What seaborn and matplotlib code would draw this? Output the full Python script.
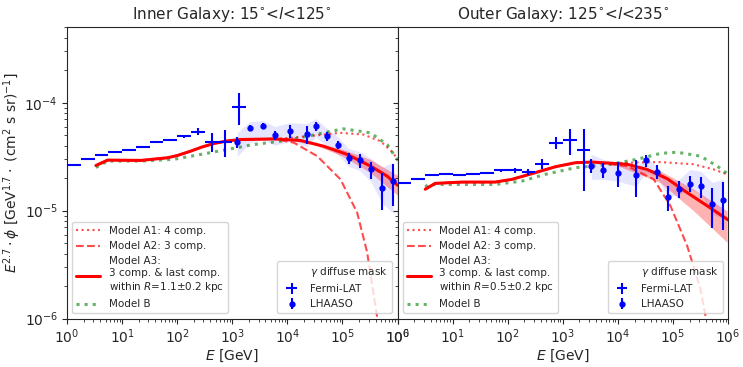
import numpy as np
import pandas as pd
import matplotlib
matplotlib.use("Agg")
import matplotlib.pyplot as plt
from matplotlib.lines import Line2D
import seaborn as sns

# ---------------- DATA ----------------
# Fermi-LAT energy bins (GeV): lower/upper edges (4 bins per decade)
fermi_lo_in = [1.0, 1.78, 3.16, 5.62, 10.0, 17.8, 31.6, 56.2, 100, 178, 316, 562, 1000]
fermi_hi_in = [1.78, 3.16, 5.62, 10.0, 17.8, 31.6, 56.2, 100, 178, 316, 562, 1000, 1778]
fermi_f_in = [2.64e-5, 2.98e-5, 3.25e-5, 3.48e-5, 3.63e-5, 3.85e-5, 4.37e-5, 4.50e-5,
              4.87e-5, 5.40e-5, 4.37e-5, 4.37e-5, 9.2e-5]
fermi_err_in = [0.03e-5, 0.03e-5, 0.03e-5, 0.03e-5, 0.04e-5, 0.05e-5, 0.06e-5, 0.08e-5,
                0.15e-5, 0.4e-5, 0.85e-5, 1.2e-5, 3.0e-5]

fermi_lo_out = [1.0, 1.78, 3.16, 5.62, 10.0, 17.8, 31.6, 56.2, 100, 178, 316, 562, 1000, 1778]
fermi_hi_out = [1.78, 3.16, 5.62, 10.0, 17.8, 31.6, 56.2, 100, 178, 316, 562, 1000, 1778, 3162]
fermi_f_out = [1.79e-5, 1.98e-5, 2.12e-5, 2.20e-5, 2.16e-5, 2.17e-5, 2.25e-5, 2.36e-5,
               2.36e-5, 2.30e-5, 2.72e-5, 4.26e-5, 4.50e-5, 3.63e-5]
fermi_err_out = [0.02e-5, 0.02e-5, 0.02e-5, 0.02e-5, 0.03e-5, 0.03e-5, 0.04e-5, 0.06e-5,
                 0.15e-5, 0.14e-5, 0.31e-5, 0.55e-5, 1.2e-5, 2.1e-5]

# LHAASO points (GeV, flux, error) and systematic band
lha_e_in = [1230, 2090, 3660, 5940, 10960, 22300, 32800, 52000, 81300, 128800,
            204000, 326000, 525000, 828000]
lha_f_in = [4.35e-5, 5.85e-5, 6.05e-5, 4.97e-5, 5.44e-5, 5.14e-5, 6.05e-5, 4.90e-5,
            4.05e-5, 3.07e-5, 2.92e-5, 2.41e-5, 1.61e-5, 1.90e-5]
lha_err_in = [0.51e-5, 0.37e-5, 0.39e-5, 0.47e-5, 0.77e-5, 0.98e-5, 0.57e-5, 0.49e-5,
              0.35e-5, 0.35e-5, 0.41e-5, 0.43e-5, 0.6e-5, 0.8e-5]
lha_band_hi_in = [5.29e-5, 6.68e-5, 6.83e-5, 6.01e-5, 6.54e-5, 6.40e-5, 7.13e-5, 5.76e-5,
                  4.86e-5, 3.77e-5, 3.53e-5, 3.05e-5, 2.52e-5, 2.80e-5]
lha_band_lo_in = [3.18e-5, 4.28e-5, 4.56e-5, 4.02e-5, 4.37e-5, 3.93e-5, 4.86e-5, 3.93e-5,
                  3.32e-5, 2.57e-5, 2.36e-5, 1.87e-5, 1.17e-5, 0.95e-5]

lha_e_out = [3290, 5430, 10190, 21000, 32400, 51300, 81300, 128800, 204000, 324000,
             513000, 813000]
lha_f_out = [2.62e-5, 2.38e-5, 2.25e-5, 2.14e-5, 2.92e-5, 2.30e-5, 1.35e-5, 1.60e-5,
             1.78e-5, 1.69e-5, 1.16e-5, 1.25e-5]
lha_err_out = [0.39e-5, 0.36e-5, 0.58e-5, 0.80e-5, 0.38e-5, 0.35e-5, 0.36e-5, 0.30e-5,
               0.30e-5, 0.37e-5, 0.47e-5, 0.59e-5]
lha_band_hi_out = [3.32e-5, 2.99e-5, 2.80e-5, 2.52e-5, 3.11e-5, 2.57e-5, 1.83e-5, 1.95e-5,
                   2.41e-5, 2.31e-5, 1.83e-5, 1.95e-5]
lha_band_lo_out = [1.95e-5, 1.95e-5, 1.87e-5, 1.68e-5, 2.26e-5, 2.04e-5, 1.33e-5, 1.42e-5,
                   1.58e-5, 1.42e-5, 0.93e-5, 0.84e-5]

# Model curves, inner galaxy
a3_e_in = [3.35, 5.46, 10, 21.9, 66.7, 100, 176, 282, 466, 794, 1419, 5690, 17340,
           45800, 121600, 321400, 645700, 1.0e6]
a3_f_in = [2.62e-5, 2.94e-5, 2.93e-5, 2.92e-5, 3.09e-5, 3.24e-5, 3.56e-5, 3.89e-5,
           4.19e-5, 4.42e-5, 4.56e-5, 4.62e-5, 4.47e-5, 3.95e-5, 3.32e-5, 2.59e-5,
           2.09e-5, 1.72e-5]
a1_e_in = [3.35, 5.46, 10, 21.9, 66.7, 100, 176, 282, 466, 794, 1419, 5690, 11480,
           22900, 91200, 240000, 490000, 832000, 1.0e6]
a1_f_in = [2.62e-5, 2.94e-5, 2.93e-5, 2.92e-5, 3.09e-5, 3.24e-5, 3.56e-5, 3.89e-5,
           4.19e-5, 4.42e-5, 4.56e-5, 4.62e-5, 4.73e-5, 4.89e-5, 5.26e-5, 5.07e-5,
           4.40e-5, 3.44e-5, 2.95e-5]
a2_e_in = [3.35, 5.46, 10, 21.9, 66.7, 100, 176, 282, 466, 794, 1419, 5690, 13120,
           34800, 92000, 184500, 280000, 424600, 501000]
a2_f_in = [2.62e-5, 2.94e-5, 2.93e-5, 2.92e-5, 3.09e-5, 3.24e-5, 3.56e-5, 3.89e-5,
           4.19e-5, 4.42e-5, 4.56e-5, 4.62e-5, 4.26e-5, 3.20e-5, 1.95e-5, 9.6e-6,
           4.12e-6, 1.04e-6, 6.0e-7]
b_e_in = [3.35, 5.46, 21.9, 86.7, 268, 815, 2443, 7530, 22960, 60700, 104200, 321400,
          645700, 1.03e6]
b_f_in = [2.51e-5, 2.88e-5, 2.88e-5, 2.99e-5, 3.32e-5, 3.69e-5, 4.10e-5, 4.40e-5,
          4.89e-5, 5.43e-5, 5.73e-5, 5.26e-5, 4.10e-5, 2.88e-5]
a3band_e_in = [10000, 31600, 100000, 316000, 1.0e6]
a3band_hi_in = [4.55e-5, 4.23e-5, 3.71e-5, 2.99e-5, 2.12e-5]
a3band_lo_in = [4.55e-5, 4.06e-5, 3.20e-5, 2.26e-5, 1.39e-5]

# Model curves, outer galaxy
a3_e_out = [3.18, 4.83, 14.8, 59.4, 119, 316, 730, 1690, 3390, 14660, 33800, 78000,
            179900, 415000, 1.0e6]
a3_f_out = [1.58e-5, 1.79e-5, 1.84e-5, 1.84e-5, 1.95e-5, 2.25e-5, 2.55e-5, 2.78e-5,
            2.82e-5, 2.69e-5, 2.41e-5, 1.98e-5, 1.47e-5, 1.11e-5, 8.2e-6]
a1_e_out = [3.18, 4.83, 14.8, 59.4, 119, 316, 730, 1690, 3390, 7240, 14660, 58900,
            237000, 547000, 1.0e6]
a1_f_out = [1.58e-5, 1.79e-5, 1.84e-5, 1.84e-5, 1.95e-5, 2.25e-5, 2.55e-5, 2.78e-5,
            2.82e-5, 2.75e-5, 2.78e-5, 2.82e-5, 2.69e-5, 2.41e-5, 2.15e-5]
a2_e_out = [3.18, 4.83, 14.8, 59.4, 119, 316, 730, 1690, 3390, 4790, 14660, 44600,
            89500, 179900, 314000, 387000, 447000]
a2_f_out = [1.58e-5, 1.79e-5, 1.84e-5, 1.84e-5, 1.95e-5, 2.25e-5, 2.55e-5, 2.78e-5,
            2.82e-5, 2.75e-5, 2.59e-5, 1.95e-5, 1.11e-5, 4.74e-6, 1.89e-6, 1.07e-6,
            6.0e-7]
b_e_out = [3.18, 3.66, 14.8, 59.4, 182, 481, 1690, 7280, 22200, 58900, 118600, 314000,
           631000, 1.0e6]
b_f_out = [1.66e-5, 1.75e-5, 1.75e-5, 1.75e-5, 1.88e-5, 2.17e-5, 2.50e-5, 2.69e-5,
           2.99e-5, 3.39e-5, 3.48e-5, 3.20e-5, 2.59e-5, 2.17e-5]
a3band_e_out = [7900, 58900, 237000, 955000]
a3band_hi_out = [2.72e-5, 2.33e-5, 1.58e-5, 9.95e-6]
a3band_lo_out = [2.72e-5, 1.82e-5, 9.95e-6, 5.09e-6]

titles = ["Inner Galaxy: 15$^{\\circ}$<$l$<125$^{\\circ}$",
          "Outer Galaxy: 125$^{\\circ}$<$l$<235$^{\\circ}$"]
radius_labels = ["1.1", "0.5"]

panels = [
    dict(flo=fermi_lo_in, fhi=fermi_hi_in, ff=fermi_f_in, fe=fermi_err_in,
         le=lha_e_in, lf=lha_f_in, lerr=lha_err_in, lbh=lha_band_hi_in, lbl=lha_band_lo_in,
         a3=(a3_e_in, a3_f_in), a1=(a1_e_in, a1_f_in), a2=(a2_e_in, a2_f_in), b=(b_e_in, b_f_in),
         band=(a3band_e_in, a3band_lo_in, a3band_hi_in)),
    dict(flo=fermi_lo_out, fhi=fermi_hi_out, ff=fermi_f_out, fe=fermi_err_out,
         le=lha_e_out, lf=lha_f_out, lerr=lha_err_out, lbh=lha_band_hi_out, lbl=lha_band_lo_out,
         a3=(a3_e_out, a3_f_out), a1=(a1_e_out, a1_f_out), a2=(a2_e_out, a2_f_out), b=(b_e_out, b_f_out),
         band=(a3band_e_out, a3band_lo_out, a3band_hi_out)),
]

# ---------------- PLOT ----------------
sns.set_style("ticks")
plt.rcParams['font.family'] = ['DejaVu Sans']
plt.rcParams['mathtext.fontset'] = 'dejavusans'
plt.rcParams.update({
    'xtick.major.size': 3.5, 'ytick.major.size': 3.5,
    'xtick.minor.size': 2.0, 'ytick.minor.size': 2.0,
    'xtick.major.pad': 3.0, 'ytick.major.pad': 3.0,
    'xtick.major.width': 0.8, 'ytick.major.width': 0.8,
    'xtick.minor.width': 0.6, 'ytick.minor.width': 0.6,
    'axes.labelpad': 1.0, 'axes.titlepad': 6.0,
    'axes.linewidth': 0.8,
})

fig, axes = plt.subplots(1, 2, figsize=(7.43, 3.67), dpi=100, sharey=True)
fig.subplots_adjust(left=0.0902, right=0.98, top=0.9256, bottom=0.132, wspace=0)

for i, (ax, p) in enumerate(zip(axes, panels)):
    ax.set_xscale('log')
    ax.set_yscale('log')

    # LHAASO systematic band
    ax.fill_between(p['le'], p['lbl'], p['lbh'], color='blue', alpha=0.1, lw=0, zorder=1)
    # Model A3 uncertainty band
    be, blo, bhi = p['band']
    ax.fill_between(be, blo, bhi, color='red', alpha=0.3, lw=0, zorder=1)

    def line(xy, **kw):
        df = pd.DataFrame({'E': xy[0], 'F': xy[1]})
        sns.lineplot(data=df, x='E', y='F', ax=ax, sort=False, estimator=None, **kw)
        return ax.get_lines()[-1]

    l_a1 = line(p['a1'], color='red', alpha=0.7, lw=1.5, linestyle=':', zorder=3)
    l_a2 = line(p['a2'], color='red', alpha=0.7, lw=1.5, linestyle='--', zorder=3)
    l_a3 = line(p['a3'], color='red', lw=2.2, zorder=4)
    l_b = line(p['b'], color='green', alpha=0.6, lw=2.2, linestyle=':', zorder=3)

    flo = np.array(p['flo']); fhi = np.array(p['fhi'])
    fc = np.sqrt(flo * fhi)
    h_f = ax.errorbar(fc, p['ff'], xerr=[fc - flo, fhi - fc], yerr=p['fe'],
                      fmt='none', ecolor='blue', elinewidth=1.5, zorder=5)
    h_l = ax.errorbar(p['le'], p['lf'], yerr=p['lerr'], fmt='o', color='blue',
                      ms=3.5, elinewidth=1.5, zorder=6)

    ax.set_xlim(1, 1e6)
    ax.set_ylim(1e-6, 5e-4)
    ax.set_title(titles[i], fontsize=11)
    ax.set_xlabel('$E$ [GeV]', fontsize=10)
    ax.tick_params(labelsize=10)

    leg1 = ax.legend([l_a1, l_a2, l_a3, l_b],
                     ['Model A1: 4 comp.', 'Model A2: 3 comp.',
                      'Model A3:\n3 comp. & last comp.\nwithin $R$=%s±0.2 kpc' % radius_labels[i],
                      'Model B'],
                     loc='lower left', fontsize=7.5, handlelength=2.3)
    ax.add_artist(leg1)
    blank = Line2D([], [], linestyle='none', marker='none')
    ax.legend([blank, h_f, h_l], ['$\\gamma$ diffuse mask', 'Fermi-LAT', 'LHAASO'],
              loc='lower right', fontsize=7.5, handlelength=2.0)

axes[0].set_ylabel('$E^{2.7}\\cdot\\phi$ [GeV$^{1.7}\\cdot$ (cm$^2$ s sr)$^{-1}$]', fontsize=10)
axes[1].set_ylabel('')
axes[1].tick_params(axis='y', which='both', labelleft=False)

fig.savefig('out.png', dpi=100)
